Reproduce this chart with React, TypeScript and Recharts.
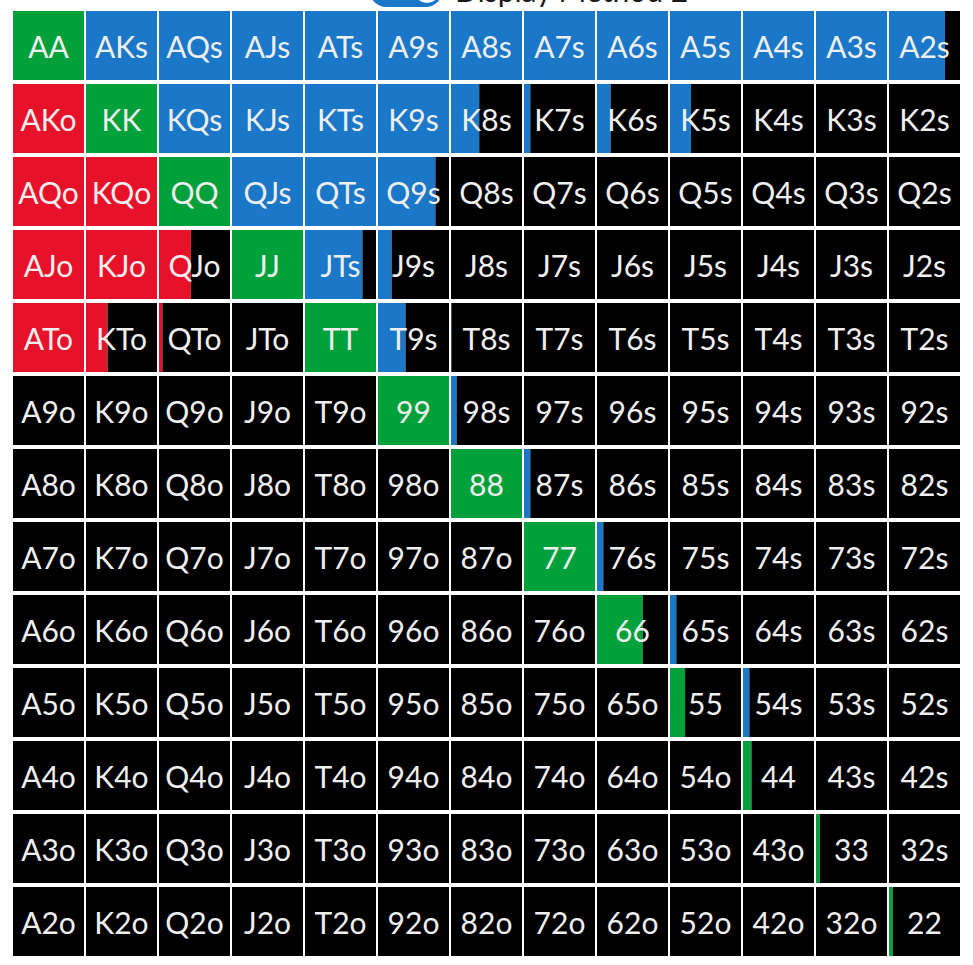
import React from 'react';
import { BarChart, Bar, XAxis, YAxis, Cell, LabelList, ReferenceLine } from 'recharts';

// Hand ranks (rows top→bottom, columns left→right)
const RANKS = ['A', 'K', 'Q', 'J', 'T', '9', '8', '7', '6', '5', '4', '3', '2'];

// Fraction of each cell that is filled (strategy frequency), one array per row
const FREQ_A = [1, 1, 1, 1, 1, 1, 1, 1, 1, 1, 1, 1, 0.78];
const FREQ_K = [1, 1, 1, 1, 1, 1, 0.4, 0.1, 0.2, 0.3, 0, 0, 0];
const FREQ_Q = [1, 1, 1, 1, 1, 0.8, 0, 0, 0, 0, 0, 0, 0];
const FREQ_J = [1, 1, 0.45, 1, 0.8, 0.2, 0, 0, 0, 0, 0, 0, 0];
const FREQ_T = [1, 0.31, 0.06, 0, 1, 0.39, 0.02, 0, 0, 0, 0, 0, 0];
const FREQ_9 = [0, 0, 0, 0, 0, 1, 0.09, 0, 0, 0, 0, 0, 0];
const FREQ_8 = [0, 0, 0, 0, 0, 0, 1, 0.1, 0, 0, 0, 0, 0];
const FREQ_7 = [0, 0, 0, 0, 0, 0, 0, 1, 0.1, 0, 0, 0, 0];
const FREQ_6 = [0, 0, 0, 0, 0, 0, 0, 0, 0.64, 0.1, 0, 0, 0];
const FREQ_5 = [0, 0, 0, 0, 0, 0, 0, 0, 0, 0.22, 0.1, 0, 0];
const FREQ_4 = [0, 0, 0, 0, 0, 0, 0, 0, 0, 0, 0.13, 0, 0];
const FREQ_3 = [0, 0, 0, 0, 0, 0, 0, 0, 0, 0, 0, 0.065, 0];
const FREQ_2 = [0, 0, 0, 0, 0, 0, 0, 0, 0, 0, 0, 0, 0.065];

const FREQ_ROWS = [FREQ_A, FREQ_K, FREQ_Q, FREQ_J, FREQ_T, FREQ_9, FREQ_8, FREQ_7, FREQ_6, FREQ_5, FREQ_4, FREQ_3, FREQ_2];

const TITLE = 'Display Method 2';

const PAIR_COLOR = '#00A13B';
const SUITED_COLOR = '#1B78C8';
const OFFSUIT_COLOR = '#E8112A';

const W = 973;
const H = 965;
const TOP = 10; // strip above the grid, where the clipped title sits
const MARGIN = { top: 9, right: 12, bottom: 7, left: 12 };
const UNIT = (W - MARGIN.left - MARGIN.right) / RANKS.length;
const FONT = "Lato, 'Open Sans', sans-serif";

const handLabel = (i: number, j: number) =>
  i === j ? RANKS[i] + RANKS[j] : i < j ? RANKS[i] + RANKS[j] + 's' : RANKS[j] + RANKS[i] + 'o';
const handColor = (i: number, j: number) => (i === j ? PAIR_COLOR : i < j ? SUITED_COLOR : OFFSUIT_COLOR);

const FREQ_BY_LABEL: Record<string, number> = {};
const rows = RANKS.map((rank, i) => {
  const row: any = { rank };
  FREQ_ROWS[i].forEach((f, j) => {
    const lab = handLabel(i, j);
    row['f' + j] = f;
    row['e' + j] = 1 - f;
    row['l' + j] = lab;
    FREQ_BY_LABEL[lab] = f;
  });
  return row;
});

const COLS = RANKS.map((_, j) => j);
const BOUNDS = Array.from({ length: RANKS.length + 1 }, (_, k) => k);

const labelText = (cx: number, cy: number, value: any) => (
  <text x={cx} y={cy} textAnchor="middle" dominantBaseline="central" fill="#EFEFEF" fontSize={30} fontFamily={FONT}>
    {value}
  </text>
);

// label on the coloured segment: used only when the cell is fully coloured
const FillLabel = (props: any) => {
  const { x, y, height, value } = props;
  if (FREQ_BY_LABEL[value] < 1) return null;
  return labelText(Number(x) + UNIT / 2, Number(y) + Number(height) / 2, value);
};
// label on the black segment: used whenever part of the cell is black
const RestLabel = (props: any) => {
  const { x, y, width, height, value } = props;
  if (FREQ_BY_LABEL[value] >= 1) return null;
  return labelText(Number(x) + Number(width) - UNIT / 2, Number(y) + Number(height) / 2, value);
};

export default function App() {
  const series: any[] = [];
  COLS.forEach((j) => {
    series.push(
      <Bar key={'f' + j} dataKey={'f' + j} stackId="s" isAnimationActive={false}>
        {rows.map((_, i) => (
          <Cell key={i} fill={handColor(i, j)} />
        ))}
        <LabelList dataKey={'l' + j} content={FillLabel} />
      </Bar>
    );
    series.push(
      <Bar key={'e' + j} dataKey={'e' + j} stackId="s" fill="#000" isAnimationActive={false}>
        <LabelList dataKey={'l' + j} content={RestLabel} />
      </Bar>
    );
  });
  return (
    <div
      style={{
        position: 'fixed',
        left: 0,
        top: 0,
        width: W,
        height: H,
        overflow: 'hidden',
        background: '#fff',
      }}
    >
      <svg width={W} height={TOP} style={{ position: 'absolute', left: 0, top: 0, display: 'block' }}>
        <rect x={370} y={-26} width={72} height={33} rx={16} fill={SUITED_COLOR} />
        <circle cx={427} cy={-10} r={14} fill="#fff" stroke={SUITED_COLOR} strokeWidth={2} />
        <text x={455} y={2} fontSize={30} fill="#1a1a1a" fontFamily={FONT}>
          {TITLE}
        </text>
      </svg>
      <div style={{ position: 'absolute', left: 0, top: 0 }}>
        <BarChart
          layout="vertical"
          width={W}
          height={H}
          data={rows}
          margin={MARGIN}
          barCategoryGap={2}
          barGap={0}
        >
          <XAxis type="number" domain={[0, 13]} allowDataOverflow hide />
          <YAxis type="category" dataKey="rank" hide />
          {series}
          {BOUNDS.map((k) => (
            <ReferenceLine key={'v' + k} x={k} stroke="#fff" strokeWidth={2} ifOverflow="visible" />
          ))}
        </BarChart>
      </div>
    </div>
  );
}
